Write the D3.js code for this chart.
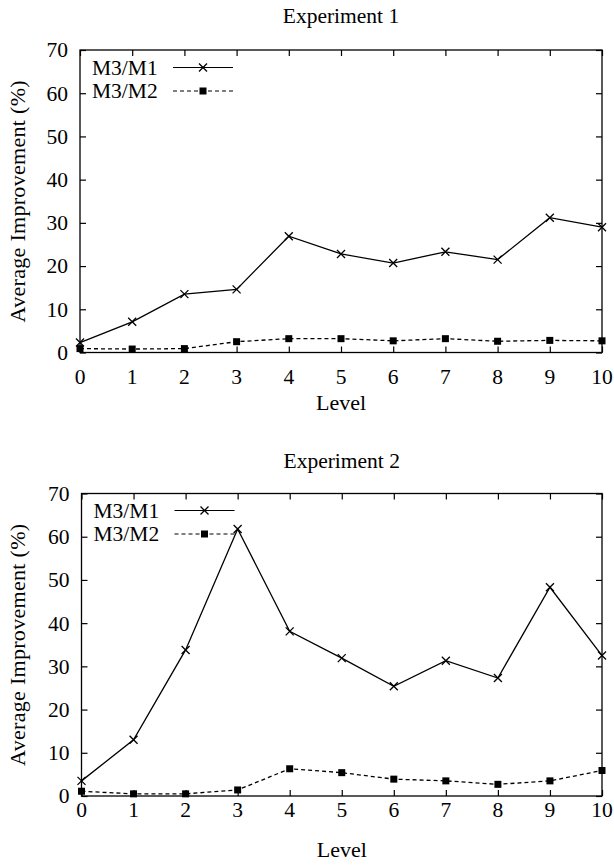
<!DOCTYPE html>
<html>
<head>
<meta charset="utf-8">
<script src="https://cdn.jsdelivr.net/npm/d3@7"></script>
<style>
  body { margin: 0; background: #fff; }
  text { font-family: "Liberation Serif", "Times New Roman", serif; fill: #000; }
</style>
</head>
<body>
<svg class="chart" width="614" height="865"></svg>
<script>
// data
var levels = [0, 1, 2, 3, 4, 5, 6, 7, 8, 9, 10];
var yTicks = [0, 10, 20, 30, 40, 50, 60, 70];
var seriesNames = ["M3/M1", "M3/M2"];

var exp1M1 = [2.3, 7.1, 13.5, 14.6, 26.9, 22.8, 20.7, 23.3, 21.5, 31.2, 29.0];
var exp1M2 = [0.9, 0.8, 0.9, 2.5, 3.2, 3.2, 2.7, 3.2, 2.6, 2.8, 2.7];
var exp2M1 = [3.5, 13.0, 33.8, 61.8, 38.1, 31.9, 25.4, 31.3, 27.3, 48.3, 32.5];
var exp2M2 = [1.1, 0.5, 0.5, 1.4, 6.3, 5.4, 3.9, 3.5, 2.7, 3.5, 5.9];

var svg = d3.select(".chart");

var panels = [
    { title: "Experiment 1", m1: exp1M1, m2: exp1M2, left: 80, right: 602, top: 50, bottom: 352.5, titleY: 23, xLabY: 384, levelY: 410, legY: 67.5 },
    { title: "Experiment 2", m1: exp2M1, m2: exp2M2, left: 81.5, right: 602, top: 493.5, bottom: 796, titleY: 468, xLabY: 817, levelY: 857, legY: 510.5 }
];

panels.forEach(function(p) { drawPanel(p); });

function drawPanel(p) {
    var x = d3.scaleLinear().domain([0, 10]).range([p.left, p.right]);
    var y = d3.scaleLinear().domain([0, 70]).range([p.bottom, p.top]);
    var g = svg.append("g");

    // frame
    g.append("rect")
        .attr("x", p.left).attr("y", p.top)
        .attr("width", p.right - p.left).attr("height", p.bottom - p.top)
        .attr("fill", "none").attr("stroke", "#000").attr("stroke-width", 1.3);

    // y axis, ticks pointing in (mirrored on the right)
    var yAxis = g.append("g")
        .attr("transform", "translate(" + p.left + ",0)")
        .call(d3.axisLeft(y).tickValues(yTicks).tickSizeInner(-6).tickSizeOuter(0).tickPadding(12));
    g.append("g")
        .attr("transform", "translate(" + p.right + ",0)")
        .call(d3.axisRight(y).tickValues(yTicks).tickSizeInner(-6).tickSizeOuter(0).tickFormat(""));

    g.append("g")
        .attr("transform", "translate(0," + p.bottom + ")")
        .call(d3.axisBottom(x).tickValues(levels).tickSizeInner(-6).tickSizeOuter(0).tickPadding(0).tickFormat(""));
    g.append("g")
        .attr("transform", "translate(0," + p.top + ")")
        .call(d3.axisTop(x).tickValues(levels).tickSizeInner(-6).tickSizeOuter(0).tickFormat(""));

    g.selectAll(".domain").remove();
    g.selectAll(".tick line").attr("stroke", "#000").attr("stroke-width", 1.2);
    yAxis.selectAll(".tick text")
        .attr("font-size", 21.5)
        .attr("font-family", "Liberation Serif, Times New Roman, serif");

    // x tick labels
    g.selectAll(".xlab")
        .data(levels)
        .enter().append("text")
        .attr("x", function(d) { return x(d); })
        .attr("y", p.xLabY)
        .attr("text-anchor", "middle")
        .attr("font-size", 21.5)
        .text(function(d) { return d; });

    g.append("text")
        .attr("x", (p.left + p.right) / 2).attr("y", p.titleY)
        .attr("text-anchor", "middle").attr("font-size", 21.5)
        .text(p.title);

    g.append("text")
        .attr("x", (p.left + p.right) / 2).attr("y", p.levelY)
        .attr("text-anchor", "middle").attr("font-size", 22)
        .text("Level");

    g.append("text")
        .attr("transform", "translate(24.5," + (p.top + p.bottom) / 2 + ") rotate(-90)")
        .attr("text-anchor", "middle").attr("font-size", 22)
        .attr("letter-spacing", 0.3)
        .text("Average Improvement (%)");

    var line = d3.line()
        .x(function(d, i) { return x(levels[i]); })
        .y(function(d) { return y(d); });

    g.append("path")
        .attr("d", line(p.m1))
        .attr("fill", "none").attr("stroke", "#000").attr("stroke-width", 1.3);
    g.append("path")
        .attr("d", line(p.m2))
        .attr("fill", "none").attr("stroke", "#000").attr("stroke-width", 1.3)
        .attr("stroke-dasharray", "4,3");

    g.selectAll(".cross")
        .data(p.m1)
        .enter().append("path")
        .attr("transform", function(d, i) { return "translate(" + x(levels[i]) + "," + y(d) + ")"; })
        .attr("d", "M-4,-4L4,4M-4,4L4,-4")
        .attr("stroke", "#000").attr("stroke-width", 1.3);

    g.selectAll(".sq")
        .data(p.m2)
        .enter().append("rect")
        .attr("x", function(d, i) { return x(levels[i]) - 3.5; })
        .attr("y", function(d) { return y(d) - 3.5; })
        .attr("width", 7).attr("height", 7)
        .attr("fill", "#000");

    // legend
    var leg = g.append("g");
    seriesNames.forEach(function(name, i) {
        var ly = p.legY + i * 23.5;
        leg.append("text")
            .attr("x", p.left + 12).attr("y", ly + 7)
            .attr("font-size", 21.5)
            .text(name);
        leg.append("line")
            .attr("x1", p.left + 93).attr("x2", p.left + 153)
            .attr("y1", ly).attr("y2", ly)
            .attr("stroke", "#000").attr("stroke-width", 1.2)
            .attr("stroke-dasharray", i == 1 ? "4,3" : null);
        var cx = p.left + 123;
        if (i == 0) {
            leg.append("path")
                .attr("transform", "translate(" + cx + "," + ly + ")")
                .attr("d", "M-4,-4L4,4M-4,4L4,-4")
                .attr("stroke", "#000").attr("stroke-width", 1.3);
        } else {
            leg.append("rect")
                .attr("x", cx - 3.5).attr("y", ly - 3.5)
                .attr("width", 7).attr("height", 7)
                .attr("fill", "#000");
        }
    });
}
</script>
</body>
</html>
